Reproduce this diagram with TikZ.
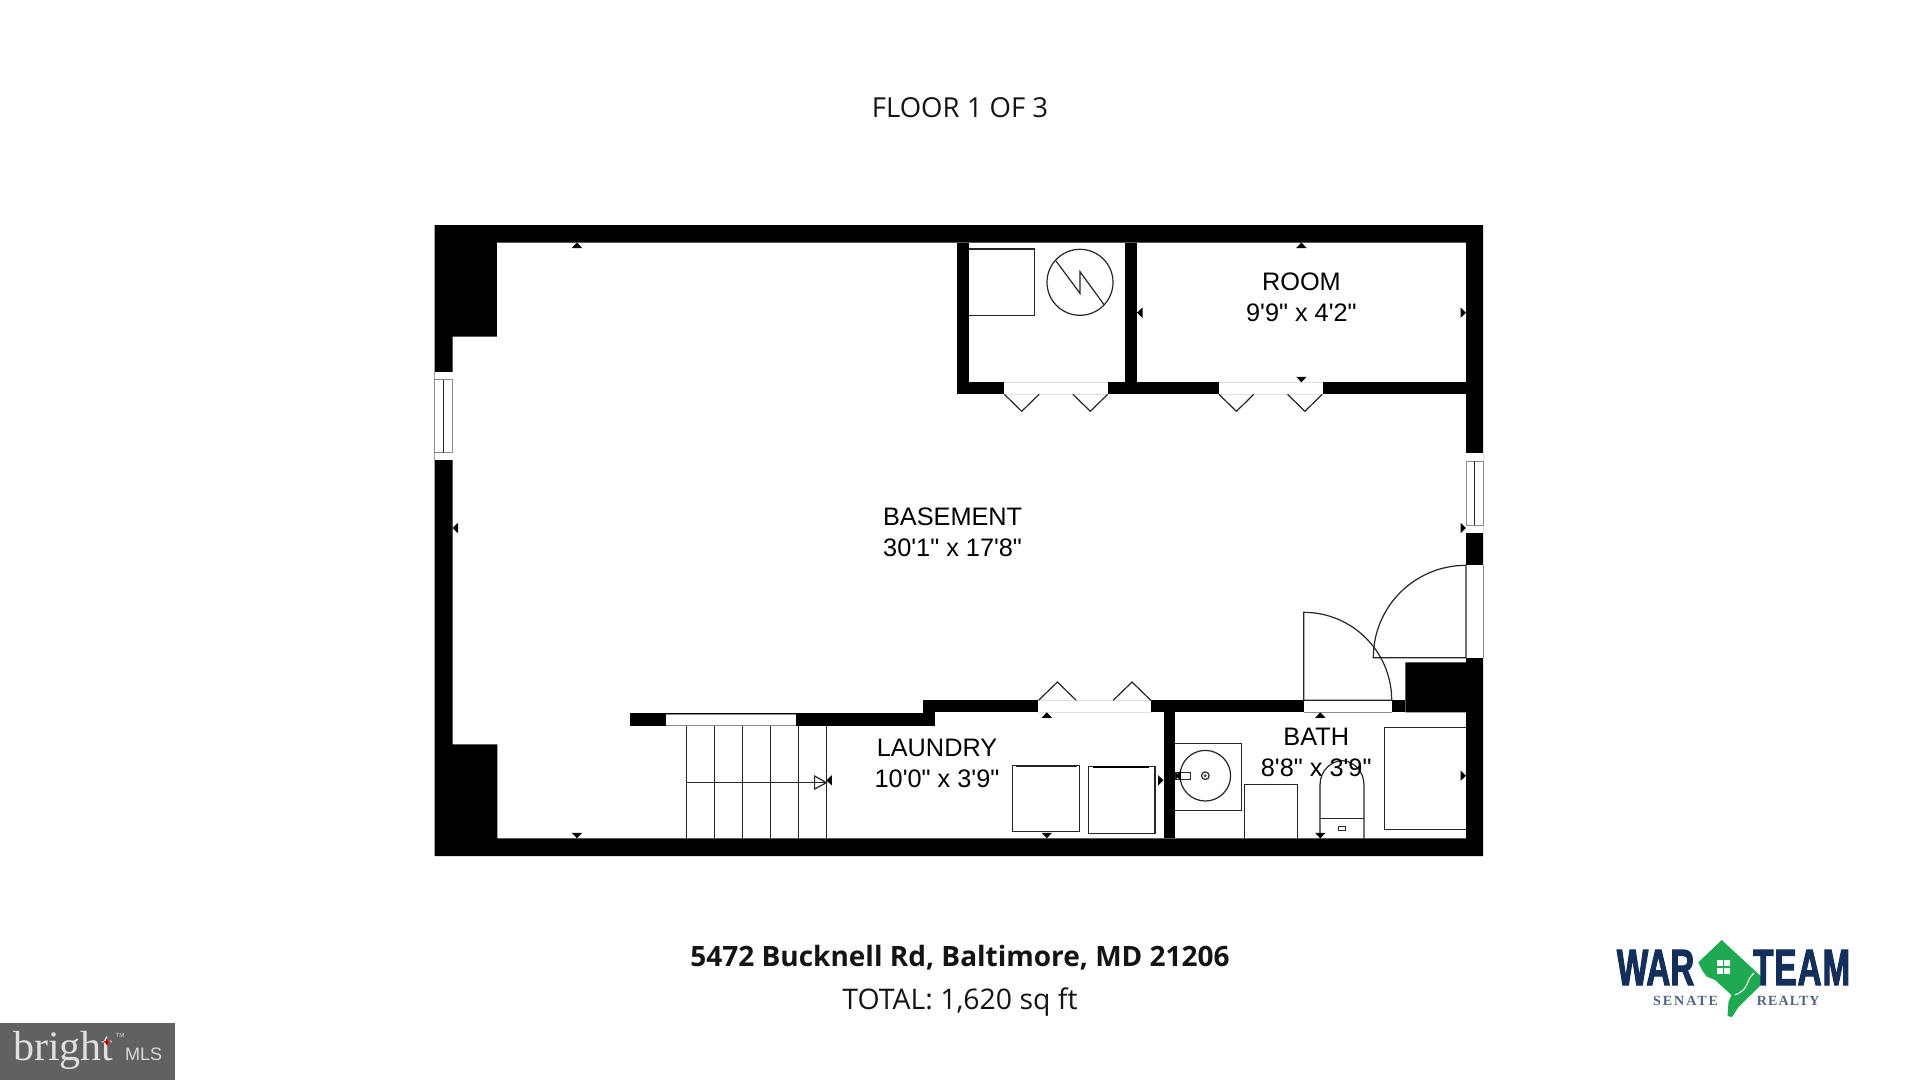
\documentclass[tikz,border=0pt]{standalone}
\usepackage{fontspec}
\setmainfont{Open Sans}
\newfontfamily\planfont{Liberation Sans}
\newfontfamily\logofont[FakeStretch=0.65,BoldFeatures={FakeStretch=0.65,FakeBold=2}]{Liberation Sans}
\newfontfamily\badgefont{Liberation Serif}
\tikzset{
  wall/.style={fill=black},
  fixture/.style={draw=black!85,line width=1.2pt},
  frameline/.style={draw=black!45,line width=1pt},
  gap/.style={fill=white},
  roomlabel/.style={font=\planfont\fontsize{25.3}{31}\selectfont,align=center,inner sep=0pt},
  pagetext/.style={inner sep=0pt,text=black!92}
}
\begin{document}
\begin{tikzpicture}[x=1pt,y=-1pt]
        \useasboundingbox (0,0) rectangle (1920,1080);
        \fill[white] (0,0) rectangle (1920,1080);
        % Outer walls and piers
        \fill[wall,even odd rule] (434.6,225) rectangle (1483,856)
            (496.8,242.5) -- (1466,242.5) -- (1466,662.3) -- (1405.3,662.3) -- (1405.3,712.3) -- (1466,712.3)
            -- (1466,838.3) -- (497.3,838.3) -- (497.3,744.3) -- (452.5,744.3) -- (452.5,336.7) -- (496.8,336.7) -- cycle;
        % Inner walls
        \fill[wall] (956.8,242.5) rectangle (968.6,394.3);
        \fill[wall] (956.8,382.3) rectangle (1466,394.3);
        \fill[wall] (1125.4,242.5) rectangle (1137,382.3);
        \fill[wall] (630,713.3) rectangle (935,726);
        \fill[wall] (923.2,700.3) rectangle (1405.3,712.3);
        \fill[wall] (923.2,700.3) rectangle (935,726);
        \fill[wall] (1163.5,700.3) rectangle (1175.3,838.3);
        % Openings
        \foreach \xa/\xb in {1004.3/1107.9,1219/1322.5} {
            \fill[gap] (\xa,382.3) rectangle (\xb,394.3);
            \draw[black!12] (\xa,382.3) -- (\xb,382.3);
            \draw[black!12] (\xa,394.3) -- (\xb,394.3);
        }
        \fill[gap] (1037.9,700.3) rectangle (1151.4,712.3);
        \draw[black!12] (1037.9,700.3) -- (1151.4,700.3);
        \draw[black!12] (1037.9,712.3) -- (1151.4,712.3);
        \fill[gap] (665.7,714.3) rectangle (796.4,725);
        \draw[frameline] (665.7,714) -- (796.4,714);
        \draw[frameline] (665.7,725) -- (796.4,725);
        % Windows
        \fill[gap] (434.6,372) rectangle (452.5,460);
        \draw[frameline] (434.6,379.5) rectangle (452.5,452.5);
        \draw[fixture] (443.6,379.5) -- (443.6,452.5);
        \fill[gap] (1466,453.3) rectangle (1483,533);
        \draw[frameline] (1466,461) rectangle (1483,525);
        \draw[fixture] (1474.6,461) -- (1474.6,525);
        % Swing doors
        \fill[gap] (1466,565.3) rectangle (1483,657.7);
        \draw[frameline] (1483,565.3) -- (1483,657.7);
        \draw[fixture] (1466,565.3) -- (1466,657.7) -- (1373.3,657.7)
            .. controls (1373.3,606.5) and (1414.8,565.3) .. (1466,565.3);
        \fill[gap] (1303.7,700.3) rectangle (1391.7,712.3);
        \draw[frameline] (1303.7,712.3) -- (1391.7,712.3);
        \draw[fixture] (1391.7,700.3) -- (1303.7,700.3) -- (1303.7,612.3)
            .. controls (1352.3,612.3) and (1391.7,651.7) .. (1391.7,700.3);
        % Folding door leaves
        \foreach \xa in {1004.3,1072.9,1219,1287.5}
            \draw[fixture] (\xa,394.3) -- ++(17.4,17) -- ++(17.4,-17);
        \foreach \xa in {1038.6,1113.2}
            \draw[fixture] (\xa,700.3) -- ++(18.8,-18.3) -- ++(18.8,18.3);
        % Closet fixtures
        \draw[fixture] (968.6,249) -- (1034.6,249) -- (1034.6,315.3) -- (968.6,315.3);
        \draw[fixture] (1080,282.3) circle[radius=33];
        \draw[fixture] (1056,261) -- (1080,293.3) -- (1080,271.7) -- (1104.3,305);
        % Stairs
        \foreach \xa in {686.4,714.3,742.5,770.4,798.2,826.4}
            \draw[fixture] (\xa,726) -- (\xa,838.3);
        \draw[fixture] (686.4,782.7) -- (826.4,782.7);
        \draw[fixture] (814.6,776) -- (826.4,782.7) -- (814.6,789) -- cycle;
        % Washer and dryer
        \draw[fixture] (1012.5,765.3) rectangle (1079.3,831.7);
        \draw[fixture,line width=1.8pt] (1016.4,766) -- (1077,766);
        \draw[fixture] (1088.2,766.3) rectangle (1155,833.3);
        \draw[black,line width=2.6pt] (1093,767) -- (1148.6,767);
        % Bath fixtures
        \draw[fixture] (1175.3,743.7) -- (1241.3,743.7) -- (1241.3,810.3) -- (1175.3,810.3);
        \draw[fixture] (1205.3,775.7) circle[radius=25.3];
        \draw[fixture] (1205.3,775.7) circle[radius=3.8];
        \fill[black!70] (1205.3,775.7) circle[radius=1.6];
        \draw[fixture] (1176,772.7) rectangle (1190.7,779.3);
        \draw[fixture] (1244.3,838.3) -- (1244.3,784.3) -- (1297.3,784.3) -- (1297.3,838.3);
        \draw[fixture] (1320,838.3) -- (1320,785) .. controls (1320,770) and (1332,760.7) .. (1342,760.7)
            .. controls (1352,760.7) and (1364,770) .. (1364,785) -- (1364,838.3);
        \draw[fixture] (1320,818.3) -- (1364,818.3);
        \draw[fixture,line width=1pt] (1338.3,826.7) rectangle (1345.7,830.3);
        \draw[fixture] (1466,727.7) -- (1384.7,727.7) -- (1384.7,829.7) -- (1466,829.7);
        % Dimension marks
        \foreach \xa/\ya/\ang in {577/242.5/180,577/838.3/0,452.5/528/-90,1466/528/90,
                1301.4/242.5/180,1301.4/382.3/0,1137/312.7/-90,1466/312.7/90,
                1046.8/712.3/180,1046.8/838.3/0,826.4/780.3/-90,1163.5/780.3/90,
                1320.3/712.3/180,1320.3/838.3/0,1175.3/775.7/-90,1466/775.7/90}
            \fill[black,shift={(\xa,\ya)},rotate=\ang] (0,0) -- (5.2,-5.5) -- (-5.2,-5.5) -- cycle;
        % Room labels
        \node[roomlabel] (basement) at (952.6,532.6) {BASEMENT\\30'1" x 17'8"};
        \node[roomlabel] (room) at (1301.4,297.6) {ROOM\\9'9" x 4'2"};
        \node[roomlabel] (laundry) at (937,763.5) {LAUNDRY\\10'0" x 3'9"};
        \node[roomlabel] (bath) at (1316.2,752.8) {BATH\\8'8" x 3'9"};
        % Page texts
        \node[pagetext,font=\fontsize{27.5}{30}\selectfont] (floorno) at (960,108) {FLOOR 1 OF 3};
        \node[pagetext,font=\bfseries\fontsize{28}{32}\selectfont] (address) at (960,957.5) {5472 Bucknell Rd, Baltimore, MD 21206};
        \node[pagetext,font=\fontsize{28.4}{32}\selectfont] (total) at (960,1002.5) {TOTAL: 1,620 sq ft};
        % Badge
        \fill[black!62] (0,1023) rectangle (175,1080);
        \node[inner sep=0pt,anchor=base west,text=black!12,font=\badgefont\fontsize{42}{44}\selectfont] (bright) at (13,1060) {bright};
        \node[inner sep=0pt,anchor=base west,text=black!15,font=\planfont\fontsize{18}{20}\selectfont] (mls) at (125,1060.5) {MLS};
        \node[inner sep=0pt,text=black!15,font=\planfont\fontsize{6}{7}\selectfont] (tm) at (120,1035) {TM};
        \fill[red!75!black] (107,1038) -- (108.2,1041) -- (111,1042) -- (108.2,1043) -- (107,1046) -- (105.8,1043) -- (103,1042) -- (105.8,1041) -- cycle;
        % Logo
        \definecolor{logonavy}{HTML}{14305A}
        \definecolor{logogreen}{HTML}{1FAA52}
        \fill[logogreen] (1721.7,940) -- (1765.5,980.5) -- (1738.5,1007) -- (1732,1017) -- (1727.5,1016) -- (1728.5,1002) -- (1731.5,995)
            -- (1715,980) -- (1706.5,976.5) -- (1702,970) -- (1698.3,962.3) -- cycle;
        \foreach \xa/\ya in {1716.5/960,1724/960,1716.5/967.5,1724/967.5}
            \fill[white] (\xa,\ya) rectangle ++(6,6);
        \draw[white,line width=1pt] (1754,973) .. controls (1744,982) and (1751,988) .. (1735,995);
        \node[inner sep=0pt,anchor=base west,text=logonavy,font=\logofont\bfseries\fontsize{51}{54}\selectfont] (war) at (1616.7,985) {WAR};
        \node[inner sep=0pt,anchor=base west,text=logonavy,font=\logofont\bfseries\fontsize{51}{54}\selectfont] (team) at (1753,985) {\addfontfeature{LetterSpace=2}TEAM};
        \node[inner sep=0pt,anchor=base west,text=logonavy!75,font=\badgefont\bfseries\fontsize{14}{16}\selectfont] (senate) at (1653,1005.5) {\addfontfeature{LetterSpace=14}SENATE};
        \node[inner sep=0pt,anchor=base west,text=logonavy!75,font=\badgefont\bfseries\fontsize{14}{16}\selectfont] (realty) at (1756.7,1005.5) {\addfontfeature{LetterSpace=8}REALTY};
    \end{tikzpicture}
\end{document}
